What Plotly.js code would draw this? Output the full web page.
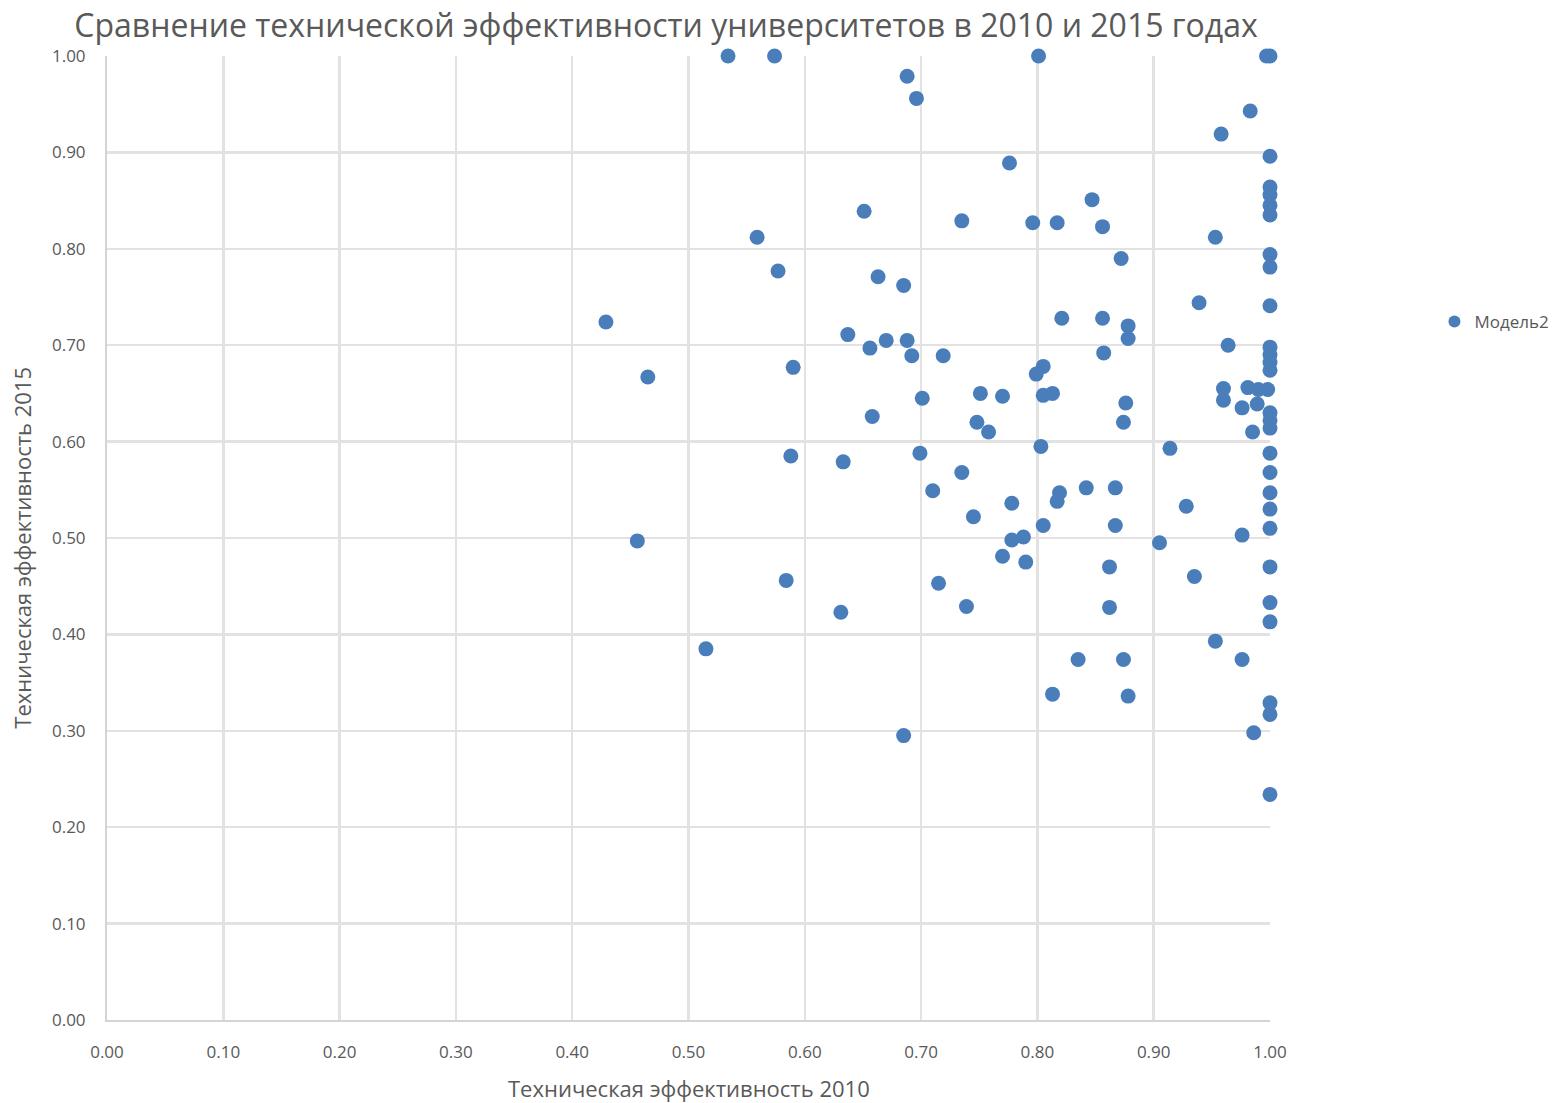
<!DOCTYPE html>
<html>
<head>
<meta charset="utf-8">
<script src="https://cdn.plot.ly/plotly-3.0.1.min.js"></script>
<style>html,body{margin:0;padding:0;background:#fff;}#chart{width:1566px;height:1103px;}</style>
</head>
<body>
<div id="chart"></div>
<script>
const seriesName = "Модель2";
const chartTitle = "Сравнение технической эффективности университетов в 2010 и 2015 годах";
const xTitle = "Техническая эффективность 2010";
const yTitle = "Техническая эффективность 2015";

const eff2010 = [
  0.534, 0.574, 0.801, 0.997, 1.000, 0.688, 0.696, 0.776, 0.958, 0.983,
  1.000, 1.000, 1.000, 1.000, 1.000, 0.651, 0.735, 0.796, 0.817, 0.847,
  0.856, 0.953, 0.559, 0.872, 1.000, 1.000, 0.577, 0.663, 0.685, 0.939,
  1.000, 0.429, 0.821, 0.856, 0.878, 0.878, 0.637, 0.670, 0.688, 0.656,
  0.692, 0.719, 0.857, 0.964, 1.000, 1.000, 1.000, 1.000, 0.465, 0.590,
  0.805, 0.799, 0.751, 0.770, 0.805, 0.813, 0.701, 0.876, 0.960, 0.960,
  0.981, 0.990, 0.998, 0.976, 0.989, 1.000, 1.000, 1.000, 0.985, 0.874,
  0.748, 0.758, 0.658, 0.803, 0.914, 0.699, 0.588, 0.633, 1.000, 0.735,
  1.000, 0.710, 0.842, 0.867, 0.819, 0.817, 1.000, 0.778, 0.928, 1.000,
  0.745, 0.805, 0.867, 1.000, 0.976, 0.778, 0.788, 0.456, 0.905, 0.770,
  0.790, 0.862, 1.000, 0.935, 0.584, 0.715, 0.631, 0.739, 0.862, 1.000,
  1.000, 0.953, 0.515, 0.835, 0.874, 0.976, 0.813, 0.878, 1.000, 1.000,
  0.986, 0.685, 1.000
];
const eff2015 = [
  1.000, 1.000, 1.000, 1.000, 1.000, 0.979, 0.956, 0.889, 0.919, 0.943,
  0.896, 0.864, 0.856, 0.845, 0.835, 0.839, 0.829, 0.827, 0.827, 0.851,
  0.823, 0.812, 0.812, 0.790, 0.794, 0.781, 0.777, 0.771, 0.762, 0.744,
  0.741, 0.724, 0.728, 0.728, 0.720, 0.707, 0.711, 0.705, 0.705, 0.697,
  0.689, 0.689, 0.692, 0.700, 0.698, 0.690, 0.682, 0.674, 0.667, 0.677,
  0.678, 0.670, 0.650, 0.647, 0.648, 0.650, 0.645, 0.640, 0.655, 0.643,
  0.656, 0.654, 0.654, 0.635, 0.639, 0.630, 0.622, 0.614, 0.610, 0.620,
  0.620, 0.610, 0.626, 0.595, 0.593, 0.588, 0.585, 0.579, 0.588, 0.568,
  0.568, 0.549, 0.552, 0.552, 0.547, 0.538, 0.547, 0.536, 0.533, 0.530,
  0.522, 0.513, 0.513, 0.510, 0.503, 0.498, 0.501, 0.497, 0.495, 0.481,
  0.475, 0.470, 0.470, 0.460, 0.456, 0.453, 0.423, 0.429, 0.428, 0.433,
  0.413, 0.393, 0.385, 0.374, 0.374, 0.374, 0.338, 0.336, 0.329, 0.317,
  0.298, 0.295, 0.234
];

const tickVals = [0, 0.1, 0.2, 0.3, 0.4, 0.5, 0.6, 0.7, 0.8, 0.9, 1.0];
const tickText = ["0.00","0.10","0.20","0.30","0.40","0.50","0.60","0.70","0.80","0.90","1.00"];

const FONT = "Open Sans, Noto Sans, sans-serif";
const GRAY = "#595959";

const trace = {
  type: "scatter",
  mode: "markers",
  name: seriesName,
  x: eff2010,
  y: eff2015,
  cliponaxis: false,
  marker: {color: "#4a7ebb", size: 15, line: {width: 0}},
  showlegend: true
};

const axisCommon = {
  range: [0, 1],
  tickvals: tickVals,
  ticktext: tickText,
  showgrid: true,
  gridcolor: "#e2e2e2",
  gridwidth: 2.5,
  zeroline: false,
  showline: true,
  linecolor: "#d4d4d4",
  linewidth: 2,
  ticks: "outside",
  tickcolor: "rgba(0,0,0,0)",
  tickfont: {family: FONT, size: 17, color: GRAY},
  automargin: false,
  fixedrange: true
};

const layout = {
  width: 1566,
  height: 1103,
  paper_bgcolor: "#ffffff",
  plot_bgcolor: "#ffffff",
  margin: {l: 107, r: 296, t: 56, b: 83, autoexpand: false},
  title: {
    text: chartTitle,
    font: {family: FONT, size: 32, color: GRAY},
    x: 0.4253, xanchor: "center", xref: "container",
    y: 0.9765, yanchor: "middle", yref: "container"
  },
  xaxis: Object.assign({}, axisCommon, {ticklen: 16}),
  yaxis: Object.assign({}, axisCommon, {ticklen: 16}),
  annotations: [
    {
      text: xTitle, showarrow: false,
      xref: "paper", yref: "paper",
      x: 0.5, xanchor: "center",
      y: -68 / 964, yanchor: "middle",
      font: {family: FONT, size: 22, color: GRAY}
    },
    {
      text: yTitle, showarrow: false, textangle: -90,
      xref: "paper", yref: "paper",
      x: -85 / 1163, xanchor: "center",
      y: 0.49, yanchor: "middle",
      font: {family: FONT, size: 22, color: GRAY}
    }
  ],
  showlegend: true,
  legend: {
    xref: "container",
    x: 0.916, xanchor: "left", y: 0.724, yanchor: "middle",
    font: {family: FONT, size: 17, color: GRAY},
    bgcolor: "rgba(0,0,0,0)",
    itemsizing: "constant",
    itemwidth: 30
  }
};

Plotly.newPlot("chart", [trace], layout, {displayModeBar: false, staticPlot: true});
</script>
</body>
</html>
